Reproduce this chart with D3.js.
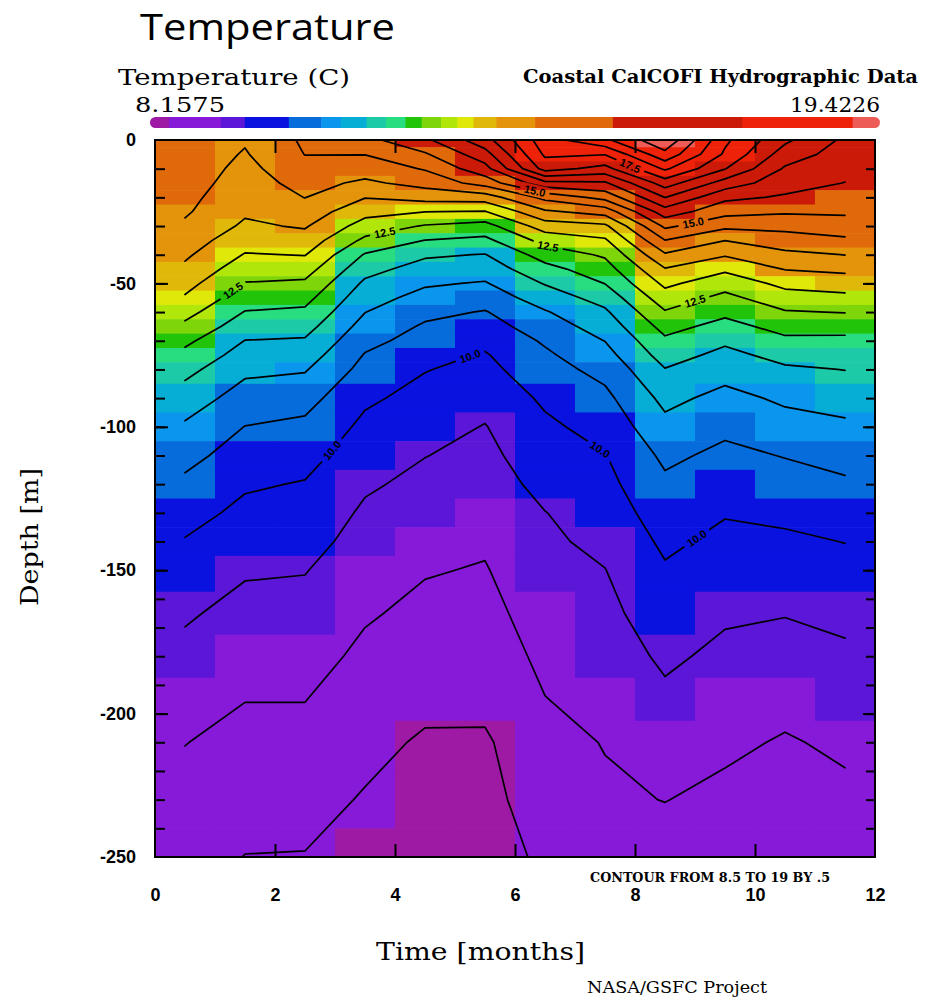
<!DOCTYPE html>
<html>
<head>
<meta charset="utf-8">
<script src="https://cdn.jsdelivr.net/npm/d3@7"></script>
<style>
  body { margin: 0; background: #fff; }
  svg { display: block; }
</style>
</head>
<body>
<svg id="chart" width="949" height="1000"></svg>
<script>
// Depth levels (m) of the gridded monthly profiles
const depths = [0, 5, 10, 15, 20, 25, 30, 35, 40, 45, 50, 55, 60, 65, 70, 75, 80,
                90, 100, 110, 120, 130, 140, 150, 165, 180, 195, 210, 230, 250];

// Temperature (C) profiles, one per month, centred at month 0.5 ... 11.5
const t01 = [14.3, 14.3, 14.28, 14.22, 14.14, 14.06, 13.92, 13.75, 13.58, 13.4, 13.17, 12.95, 12.67, 12.39, 12.11, 11.87, 11.65, 11.26, 10.93, 10.65, 10.4, 10.18, 9.97, 9.81, 9.56, 9.37, 9.19, 9.01, 8.85, 8.7];
const t02 = [14.05, 13.96, 13.86, 13.77, 13.67, 13.57, 13.42, 13.2, 12.97, 12.72, 12.48, 12.23, 11.98, 11.74, 11.49, 11.3, 11.1, 10.79, 10.49, 10.28, 10.06, 9.88, 9.72, 9.55, 9.35, 9.18, 9.01, 8.87, 8.68, 8.49];
const t03 = [14.58, 14.51, 14.34, 14.17, 14.01, 13.78, 13.55, 13.29, 13.02, 12.71, 12.42, 12.16, 11.91, 11.68, 11.45, 11.24, 11.04, 10.68, 10.39, 10.17, 9.97, 9.81, 9.67, 9.52, 9.34, 9.18, 9.01, 8.87, 8.67, 8.48];
const t04 = [14.85, 14.51, 14.22, 13.91, 13.52, 13.16, 12.79, 12.39, 11.96, 11.67, 11.41, 11.2, 11.01, 10.82, 10.64, 10.47, 10.34, 10.08, 9.89, 9.72, 9.56, 9.43, 9.32, 9.21, 9.05, 8.9, 8.77, 8.64, 8.46, 8.35];
const t05 = [15.4, 14.94, 14.54, 14.17, 13.69, 13.01, 12.46, 11.99, 11.57, 11.3, 11.06, 10.84, 10.62, 10.44, 10.31, 10.16, 10.02, 9.85, 9.68, 9.51, 9.39, 9.27, 9.15, 9.03, 8.89, 8.75, 8.62, 8.44, 8.35, 8.25];
const t06 = [16.3, 15.8, 15.32, 14.7, 13.75, 12.97, 12.31, 11.88, 11.48, 11.23, 10.96, 10.72, 10.47, 10.29, 10.12, 9.96, 9.86, 9.66, 9.48, 9.38, 9.27, 9.17, 9.06, 8.97, 8.85, 8.73, 8.61, 8.44, 8.38, 8.3];
const t07 = [17.8, 17.58, 17.2, 15.85, 14.64, 13.92, 13.25, 12.67, 12.21, 11.84, 11.53, 11.24, 10.96, 10.76, 10.56, 10.42, 10.31, 10.08, 9.91, 9.77, 9.64, 9.49, 9.42, 9.34, 9.23, 9.11, 8.99, 8.85, 8.7, 8.58];
const t08 = [18.4, 17.52, 16.83, 15.93, 15.17, 14.2, 13.4, 12.93, 12.57, 12.28, 12.01, 11.69, 11.42, 11.21, 11.01, 10.83, 10.65, 10.38, 10.17, 9.98, 9.86, 9.73, 9.61, 9.49, 9.37, 9.26, 9.14, 9.02, 8.93, 8.85];
const t09 = [19.4, 18.85, 18.08, 17.24, 16.51, 15.77, 15.1, 14.49, 13.94, 13.47, 13.11, 12.78, 12.46, 12.17, 11.91, 11.7, 11.48, 11.13, 10.86, 10.6, 10.41, 10.25, 10.09, 9.95, 9.77, 9.58, 9.41, 9.23, 9.01, 8.8];
const t10 = [17.6, 17.42, 17.02, 16.29, 15.62, 15.17, 14.62, 14.01, 13.55, 13.09, 12.7, 12.37, 12.11, 11.84, 11.58, 11.37, 11.18, 10.86, 10.6, 10.39, 10.21, 10.03, 9.89, 9.76, 9.56, 9.4, 9.24, 9.09, 8.89, 8.75];
const t11 = [16.6, 16.26, 15.94, 15.7, 15.44, 15.06, 14.65, 14.27, 13.88, 13.52, 13.13, 12.8, 12.46, 12.17, 11.9, 11.65, 11.43, 11.08, 10.82, 10.52, 10.31, 10.1, 9.92, 9.76, 9.52, 9.32, 9.13, 8.96, 8.85, 8.75];
const t12 = [15.9, 15.77, 15.63, 15.49, 15.29, 15.08, 14.77, 14.41, 14.01, 13.61, 13.24, 12.88, 12.52, 12.16, 11.9, 11.7, 11.51, 11.2, 10.91, 10.66, 10.43, 10.22, 10.01, 9.85, 9.61, 9.42, 9.26, 9.08, 8.9, 8.7];
const profiles = [t01, t02, t03, t04, t05, t06, t07, t08, t09, t10, t11, t12];

// Data range printed at the ends of the colour bar
const dataMin = 8.1575;
const dataMax = 19.4226;

// Shading classes (C) and their colours
const shadeBreaks = [8.45, 9.25, 9.62, 10.3, 10.8, 11.1, 11.5, 11.8, 12.1, 12.35, 12.65, 12.9, 13.15, 13.5, 14.1, 15.3, 17.3, 19.0];
const shadeColors = ["#9e1aa4", "#861ad8", "#5c16d8", "#0a12e0", "#066cdc", "#0a96ec", "#06aed6", "#1ccaa8", "#28dc80",
                     "#22c40a", "#7ed60a", "#b0e60a", "#e0e80a", "#e0b80a", "#e4940a", "#e06a0a", "#cc1a08", "#ee2208", "#ee5c58"];

// Contour levels: 8.5 to 19 by 0.5
const contourLevels = d3.range(8.5, 19.0001, 0.5);

// Axis tick labels
const xTicks = [0, 2, 4, 6, 8, 10, 12];
const yTicks = [0, -50, -100, -150, -200, -250];

// ---------------------------------------------------------------------------
const W = 949, H = 1000;
const svg = d3.select("#chart");
const defs = svg.append("defs");

const x = d3.scaleLinear().domain([0, 12]).range([155, 875]);
const y = d3.scaleLinear().domain([0, -250]).range([140, 857]);
const color = d3.scaleThreshold().domain(shadeBreaks).range(shadeColors);

defs.append("clipPath").attr("id", "plotClip")
  .append("rect")
  .attr("x", x(0)).attr("y", y(0))
  .attr("width", x(12) - x(0)).attr("height", y(-250) - y(0));

// Shaded cells: one column per month, one row per depth level
const cells = [];
profiles.forEach((prof, i) => {
  prof.forEach((v, j) => {
    const d0 = j === 0 ? depths[0] : (depths[j - 1] + depths[j]) / 2;
    const d1 = j === depths.length - 1 ? depths[j] : (depths[j] + depths[j + 1]) / 2;
    cells.push({ m0: i, m1: i + 1, d0, d1, v });
  });
});

const plotG = svg.append("g").attr("clip-path", "url(#plotClip)");
plotG.append("g").selectAll("rect")
  .data(cells)
  .join("rect")
  .attr("x", d => x(d.m0))
  .attr("y", d => y(-d.d0))
  .attr("width", d => x(d.m1) - x(d.m0) + 0.6)
  .attr("height", d => y(-d.d1) - y(-d.d0) + 0.6)
  .attr("fill", d => color(d.v));

// Contour lines from the same grid
const nx = profiles.length, ny = depths.length;
const grid = new Array(nx * ny);
for (let j = 0; j < ny; j++) for (let i = 0; i < nx; i++) grid[j * nx + i] = profiles[i][j];

const iso = d3.contours().size([nx, ny]).thresholds(contourLevels)(grid);
const rowDepth = d3.scaleLinear().domain(d3.range(ny)).range(depths);
const onEdge = p => p[0] <= 0 || p[0] >= nx || p[1] <= 0 || p[1] >= ny;
const toPx = p => [x(p[0]), y(-rowDepth(p[1] - 0.5))];

// Split the filled contour rings into open isolines, dropping the grid border
function isolines(mp) {
  const out = [];
  mp.coordinates.forEach(poly => poly.forEach(ring => {
    const pts = ring.slice(0, -1);
    const k = pts.findIndex(onEdge);
    if (k < 0) { out.push(pts.concat([pts[0]]).map(toPx)); return; }
    let run = [];
    for (let n = 0; n < pts.length; n++) {
      const p = pts[(k + n) % pts.length];
      if (onEdge(p)) { if (run.length > 1) out.push(run.map(toPx)); run = []; }
      else run.push(p);
    }
    if (run.length > 1) out.push(run.map(toPx));
  }));
  return out;
}

const lineSets = iso.map(c => ({ value: c.value, lines: isolines(c) }));

// Labelled contours: month / depth where each label sits
const labelSpots = [
  { level: 12.5, at: [[1.3, 52], [3.83, 32], [6.55, 37], [9.0, 56]] },
  { level: 10.0, at: [[2.95, 107], [5.25, 76], [7.42, 108], [9.03, 137]] },
  { level: 15.0, at: [[6.33, 17], [8.97, 29]] },
  { level: 17.5, at: [[7.92, 11.5]] }
];

const mask = defs.append("mask").attr("id", "labelGaps")
  .attr("maskUnits", "userSpaceOnUse")
  .attr("x", 0).attr("y", 0).attr("width", W).attr("height", H);
mask.append("rect").attr("width", W).attr("height", H).attr("fill", "#fff");

const labels = [];
labelSpots.forEach(spot => {
  const set = lineSets.find(s => Math.abs(s.value - spot.level) < 1e-6);
  if (!set) return;
  spot.at.forEach(([m, dep]) => {
    const tx = x(m), ty = y(-dep);
    let best = null;
    set.lines.forEach(line => {
      for (let n = 0; n < line.length - 1; n++) {
        const a = line[n], b = line[n + 1];
        if (a[0] === b[0] || (a[0] - tx) * (b[0] - tx) > 0) continue;
        const t = (tx - a[0]) / (b[0] - a[0]);
        const py = a[1] + t * (b[1] - a[1]);
        const dist = Math.abs(py - ty);
        if (!best || dist < best.dist) {
          let ang = Math.atan2(b[1] - a[1], b[0] - a[0]) * 180 / Math.PI;
          if (ang > 90) ang -= 180;
          if (ang < -90) ang += 180;
          best = { px: tx, py, ang, dist };
        }
      }
    });
    if (best) labels.push({ text: spot.level.toFixed(1), ...best });
  });
});

mask.selectAll("rect.gap")
  .data(labels)
  .join("rect")
  .attr("class", "gap")
  .attr("x", -15).attr("y", -6).attr("width", 30).attr("height", 12)
  .attr("fill", "#000")
  .attr("transform", d => `translate(${d.px},${d.py}) rotate(${d.ang})`);

const lineGen = d3.line();
plotG.append("g")
  .attr("mask", "url(#labelGaps)")
  .selectAll("path")
  .data(lineSets.flatMap(s => s.lines))
  .join("path")
  .attr("d", d => lineGen(d))
  .attr("fill", "none")
  .attr("stroke", "#000")
  .attr("stroke-width", 1.7)
  .attr("stroke-linejoin", "round")
  .attr("stroke-linecap", "round");

plotG.append("g").selectAll("text")
  .data(labels)
  .join("text")
  .attr("transform", d => `translate(${d.px},${d.py}) rotate(${d.ang})`)
  .attr("text-anchor", "middle")
  .attr("dy", "0.36em")
  .attr("font-family", "Liberation Sans, Arial, sans-serif")
  .attr("font-weight", "bold")
  .attr("font-size", 11)
  .attr("fill", "#000")
  .text(d => d.text);

// Frame
svg.append("rect")
  .attr("x", x(0)).attr("y", y(0))
  .attr("width", x(12) - x(0)).attr("height", y(-250) - y(0))
  .attr("fill", "none").attr("stroke", "#000").attr("stroke-width", 2);

// Inner ticks
const minorY = d3.range(-10, -250, -10);
const majorY = [-50, -100, -150, -200];
const innerX = [2, 4, 6, 8, 10];
const tickStyle = g => {
  g.select(".domain").remove();
  g.selectAll(".tick line").attr("stroke", "#000").attr("stroke-width", 2);
};
svg.append("g").attr("transform", `translate(${x(0)},0)`)
  .call(d3.axisRight(y).tickValues(minorY).tickSize(10).tickFormat(""))
  .call(tickStyle);
svg.append("g").attr("transform", `translate(${x(0)},0)`)
  .call(d3.axisRight(y).tickValues(majorY).tickSize(13).tickFormat(""))
  .call(tickStyle);
svg.append("g").attr("transform", `translate(${x(12)},0)`)
  .call(d3.axisLeft(y).tickValues(minorY).tickSize(9).tickFormat(""))
  .call(tickStyle);
svg.append("g").attr("transform", `translate(${x(12)},0)`)
  .call(d3.axisLeft(y).tickValues(majorY).tickSize(12).tickFormat(""))
  .call(tickStyle);
svg.append("g").attr("transform", `translate(0,${y(0)})`)
  .call(d3.axisBottom(x).tickValues(innerX).tickSize(13).tickFormat(""))
  .call(tickStyle);
svg.append("g").attr("transform", `translate(0,${y(-250)})`)
  .call(d3.axisTop(x).tickValues(innerX).tickSize(13).tickFormat(""))
  .call(tickStyle);

// Tick labels (plain hyphen for negative depths)
const tickFont = g => {
  g.select(".domain").remove();
  g.selectAll(".tick line").remove();
  g.selectAll(".tick text")
    .attr("font-family", "Liberation Sans, Arial, sans-serif")
    .attr("font-weight", "bold")
    .attr("font-size", 18)
    .attr("fill", "#000");
};
svg.append("g").attr("transform", `translate(${x(0)},0)`)
  .call(d3.axisLeft(y).tickValues(yTicks).tickSize(0).tickPadding(19).tickFormat(d => String(d)))
  .call(tickFont);
svg.append("g").attr("transform", `translate(0,${y(-250)})`)
  .call(d3.axisBottom(x).tickValues(xTicks).tickSize(0).tickPadding(31).tickFormat(d => String(d)))
  .call(tickFont);

// Colour bar
const cb = d3.scaleLinear().domain([dataMin, dataMax]).range([150, 880]);
const edges = [dataMin, ...shadeBreaks.filter(b => b > dataMin && b < dataMax), dataMax];
defs.append("clipPath").attr("id", "barClip")
  .append("rect").attr("x", 150).attr("y", 117).attr("width", 730).attr("height", 11).attr("rx", 5.5);
svg.append("g").attr("clip-path", "url(#barClip)")
  .selectAll("rect")
  .data(d3.pairs(edges))
  .join("rect")
  .attr("x", d => cb(d[0]))
  .attr("y", 117)
  .attr("width", d => cb(d[1]) - cb(d[0]) + 0.5)
  .attr("height", 11)
  .attr("fill", d => color((d[0] + d[1]) / 2));

// Texts
const serif = "DejaVu Serif, Liberation Serif, serif";
const addText = (t, attrs) => {
  const el = svg.append("text").text(t).attr("fill", "#000");
  Object.entries(attrs).forEach(([k, v]) => el.attr(k, v));
  return el;
};
addText("Temperature", { x: 140, y: 40, "font-family": "Open Sans, Noto Sans, sans-serif", "font-size": 36, textLength: 255, lengthAdjust: "spacingAndGlyphs" });
addText("Temperature (C)", { x: 118, y: 85, "font-family": serif, "font-size": 22, textLength: 232, lengthAdjust: "spacingAndGlyphs" });
addText("Coastal CalCOFI Hydrographic Data", { x: 523, y: 83, "font-family": serif, "font-size": 19, "font-weight": "600", textLength: 395, lengthAdjust: "spacingAndGlyphs" });
addText(String(dataMin), { x: 135, y: 112, "font-family": serif, "font-size": 21, textLength: 90, lengthAdjust: "spacingAndGlyphs" });
addText(String(dataMax), { x: 880, y: 112, "text-anchor": "end", "font-family": serif, "font-size": 21, textLength: 90, lengthAdjust: "spacingAndGlyphs" });
addText("CONTOUR FROM 8.5 TO 19 BY .5", { x: 590, y: 882, "font-family": serif, "font-size": 12, "font-weight": "bold", textLength: 240, lengthAdjust: "spacingAndGlyphs" });
addText("Time [months]", { x: 376, y: 960, "font-family": serif, "font-size": 25, textLength: 209, lengthAdjust: "spacingAndGlyphs" });
addText("NASA/GSFC Project", { x: 587, y: 993, "font-family": serif, "font-size": 17, textLength: 180, lengthAdjust: "spacingAndGlyphs" });
addText("Depth [m]", { x: 0, y: 0, transform: "translate(38,606) rotate(-90)", "font-family": serif, "font-size": 24, textLength: 138, lengthAdjust: "spacingAndGlyphs" });
</script>
</body>
</html>
